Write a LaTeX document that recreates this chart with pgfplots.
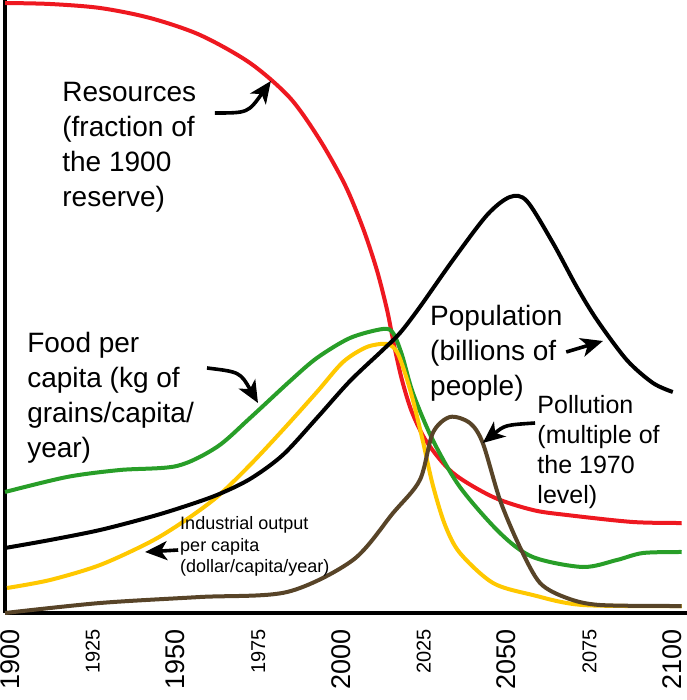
\documentclass[border=0pt]{standalone}
\usepackage{pgfplots}
\pgfplotsset{compat=1.18}
\usepackage{fontspec}
\setmainfont{Liberation Sans}
\usetikzlibrary{arrows.meta}
\definecolor{cred}{RGB}{238,24,32}
\definecolor{cgreen}{RGB}{40,158,40}
\definecolor{cyellow}{RGB}{255,200,0}
\definecolor{cbrown}{RGB}{88,68,40}
\newcommand{\bigyr}[1]{\fontsize{13.5}{13.5}\selectfont #1}
\newcommand{\smlyr}[1]{\fontsize{10}{10}\selectfont #1}
\begin{document}
\begin{tikzpicture}
\begin{axis}[
  scale only axis, width=341pt, height=306.5pt,
  xmin=1898.5, xmax=2104.5, ymin=0, ymax=6.13,
  axis x line=bottom, axis y line=left,
  axis line style={line width=2pt, -},
  xtick={1900,1925,1950,1975,2000,2025,2050,2075,2100},
  xticklabels={\bigyr{1900},\smlyr{1925},\bigyr{1950},\smlyr{1975},\bigyr{2000},\smlyr{2025},\bigyr{2050},\smlyr{2075},\bigyr{2100}},
  major tick length=0pt,
  ytick=\empty,
  xticklabel style={rotate=90, anchor=east, inner sep=0pt},
  xticklabel shift=8pt,
  clip=false,
  every axis plot/.append style={line width=2pt, smooth, tension=0.5, no markers},
]
% Resources
\addplot[cred] coordinates {
(1898.5,6.10) (1912.1,6.09) (1927.2,6.05) (1942.3,5.95) (1957.4,5.78) (1972.5,5.50)
(1984.6,5.15) (1993.6,4.73) (2001.2,4.28) (2006.6,3.85) (2010.8,3.43) (2013.9,3.03)
(2016.0,2.68) (2018.4,2.33) (2021.4,2.01) (2025.9,1.71) (2033.8,1.40) (2045.9,1.16)
(2057.9,1.03) (2068.2,0.98) (2088.1,0.91) (2102.9,0.90)};
% Food per capita
\addplot[cgreen] coordinates {
(1898.5,1.21) (1917.2,1.36) (1933.2,1.43) (1950.4,1.47) (1962.5,1.66) (1972.5,1.95)
(1984.6,2.32) (1992.7,2.55) (2002.7,2.75) (2012.6,2.84) (2015.7,2.80) (2018.4,2.58)
(2021.7,2.20) (2027.7,1.73) (2035.9,1.26) (2048.0,0.80) (2057.9,0.56) (2073.0,0.46)
(2083.3,0.53) (2091.2,0.60) (2102.9,0.61)};
% Industrial output
\addplot[cyellow] coordinates {
(1899.1,0.25) (1912.1,0.33) (1927.2,0.48) (1942.3,0.71) (1952.2,0.91) (1962.5,1.16)
(1972.5,1.48) (1982.4,1.83) (1992.7,2.21) (2000.6,2.51) (2007.8,2.66) (2013.9,2.69)
(2016.9,2.61) (2019.3,2.40) (2021.7,2.13) (2024.7,1.72) (2027.7,1.28) (2031.4,0.88)
(2035.9,0.60) (2045.9,0.30) (2057.9,0.18) (2073.0,0.08) (2102.9,0.07)};
% Pollution
\addplot[cbrown] coordinates {
(1898.5,0.00) (1927.2,0.10) (1957.4,0.16) (1983.7,0.21) (2003.6,0.53) (2015.7,1.00)
(2023.8,1.33) (2027.7,1.80) (2032.9,1.96) (2038.9,1.90) (2042.8,1.70) (2048.0,1.13)
(2054.0,0.66) (2060.1,0.30) (2068.2,0.15) (2078.2,0.08) (2102.9,0.07)};
% Population
\addplot[black] coordinates {
(1898.5,0.65) (1912.1,0.73) (1927.2,0.83) (1942.3,0.96) (1952.2,1.06) (1962.5,1.18)
(1972.5,1.34) (1982.4,1.58) (1992.7,1.95) (2002.7,2.32) (2012.6,2.63) (2017.8,2.80)
(2023.8,3.06) (2033.8,3.53) (2044.1,3.98) (2051.0,4.16) (2056.1,4.12) (2064.0,3.70)
(2071.2,3.26) (2077.3,2.93) (2086.3,2.53) (2094.2,2.30) (2100.2,2.21)};

% annotations
\node[anchor=north west, inner sep=0pt, align=left, font=\fontsize{14}{17.5}\selectfont]
  at (axis cs:1915.7,5.31) {Resources\\(fraction of\\the 1900\\reserve)};
\node[anchor=north west, inner sep=0pt, align=left, font=\fontsize{14}{17.5}\selectfont]
  at (axis cs:1905.1,2.81) {Food per\\capita (kg of\\grains/capita/\\year)};
\node[anchor=north west, inner sep=0pt, align=left, font=\fontsize{14}{17.5}\selectfont]
  at (axis cs:2026.8,3.08) {Population\\(billions of\\people)};
\node[anchor=north west, inner sep=0pt, align=left, font=\fontsize{12.5}{15}\selectfont]
  at (axis cs:2059.2,2.18) {Pollution\\(multiple of\\the 1970\\level)};
\node[anchor=north west, inner sep=0pt, align=left, font=\fontsize{9}{10.8}\selectfont]
  at (axis cs:1951.3,0.97) {Industrial output\\per capita\\(dollar/capita/year)};

\tikzset{annarrow/.style={line width=1.8pt, -{Stealth[length=11pt,width=9.5pt,inset=3pt]}}}
\draw[annarrow]
  (axis cs:1961.9,5.00) .. controls (axis cs:1971.9,5.00) .. (axis cs:1978.8,5.32);
\draw[annarrow]
  (axis cs:1959.5,2.45) .. controls (axis cs:1969.5,2.41) .. (axis cs:1974.9,2.10);
\draw[annarrow]
  (axis cs:1950.8,0.63) -- (axis cs:1940.8,0.61);
\draw[annarrow]
  (axis cs:2068.0,2.61) -- (axis cs:2079.1,2.72);
\draw[annarrow]
  (axis cs:2058.6,1.90) .. controls (axis cs:2049.5,1.88) .. (axis cs:2042.8,1.70);

\coordinate (bbsw) at (axis cs:1896.98,-0.87);
\coordinate (bbne) at (axis cs:2104.45,6.13);
\end{axis}
\pgfresetboundingbox
\path[use as bounding box] (bbsw) rectangle (bbne);
\end{tikzpicture}
\end{document}
